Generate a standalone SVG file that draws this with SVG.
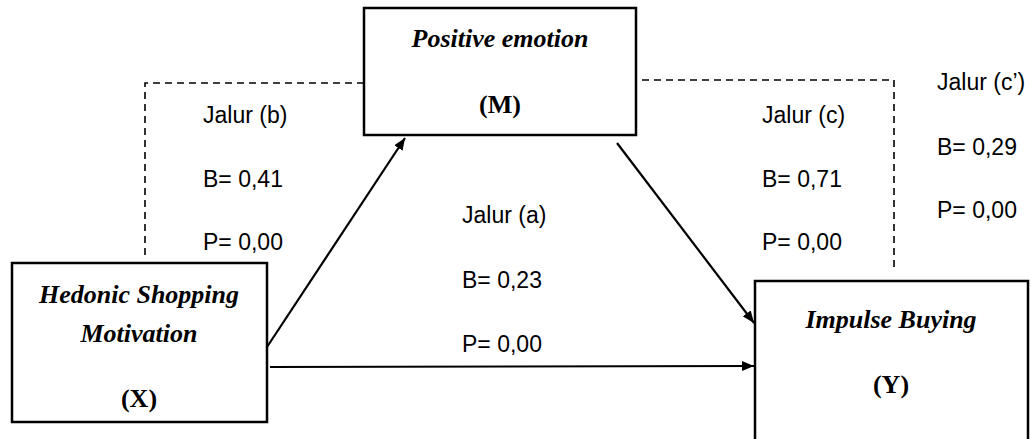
<svg xmlns="http://www.w3.org/2000/svg" width="1031" height="439" viewBox="0 0 1031 439">
<style>
.box{fill:#fff;stroke:#000;stroke-width:2.5}
.node{font-family:"Liberation Serif",serif;font-weight:bold;font-size:26px;text-anchor:middle;fill:#000}
.lbl{font-family:"Liberation Sans",Arial,sans-serif;font-size:23px;fill:#000}
.dash{fill:none;stroke:#000;stroke-width:1.6;stroke-dasharray:7,5}
.arr{fill:none;stroke:#000;stroke-width:2.2}
</style>
<defs>
<marker id="ah" viewBox="0 0 12 10" refX="12" refY="5" markerWidth="12" markerHeight="10" markerUnits="userSpaceOnUse" orient="auto">
<path d="M0,0 L12,5 L0,10 Z" fill="#000"/>
</marker>
</defs>
<g id="connectors">
<path class="dash" d="M145,255 V83 H363"/>
<path class="dash" d="M642,80 H894 V267"/>
<line class="arr" x1="267" y1="347" x2="405" y2="138" marker-end="url(#ah)"/>
<line class="arr" x1="617" y1="143" x2="754" y2="323" marker-end="url(#ah)"/>
<line class="arr" x1="270" y1="367" x2="754" y2="366" marker-end="url(#ah)"/>
</g>
<g id="node-m">
<rect class="box" x="364" y="8" width="272" height="127"/>
<text class="node" x="500" y="47" font-style="italic">Positive emotion</text>
<text class="node" x="500" y="113">(M)</text>
</g>
<g id="node-x">
<rect class="box" x="12" y="263" width="255" height="159"/>
<text class="node" x="139" y="303" font-style="italic">Hedonic Shopping</text>
<text class="node" x="139" y="342" font-style="italic">Motivation</text>
<text class="node" x="139" y="407">(X)</text>
</g>
<g id="node-y">
<rect class="box" x="755" y="281" width="273" height="170"/>
<text class="node" x="891" y="328" font-style="italic">Impulse Buying</text>
<text class="node" x="891" y="393">(Y)</text>
</g>
<g id="labels">
<text class="lbl" x="203" y="123">Jalur (b)</text>
<text class="lbl" x="203" y="187">B= 0,41</text>
<text class="lbl" x="203" y="250">P= 0,00</text>
<text class="lbl" x="462" y="223">Jalur (a)</text>
<text class="lbl" x="462" y="288">B= 0,23</text>
<text class="lbl" x="462" y="352">P= 0,00</text>
<text class="lbl" x="762" y="123">Jalur (c)</text>
<text class="lbl" x="762" y="187">B= 0,71</text>
<text class="lbl" x="762" y="250">P= 0,00</text>
<text class="lbl" x="937" y="90">Jalur (c’)</text>
<text class="lbl" x="937" y="155">B= 0,29</text>
<text class="lbl" x="937" y="218">P= 0,00</text>
</g>
</svg>
